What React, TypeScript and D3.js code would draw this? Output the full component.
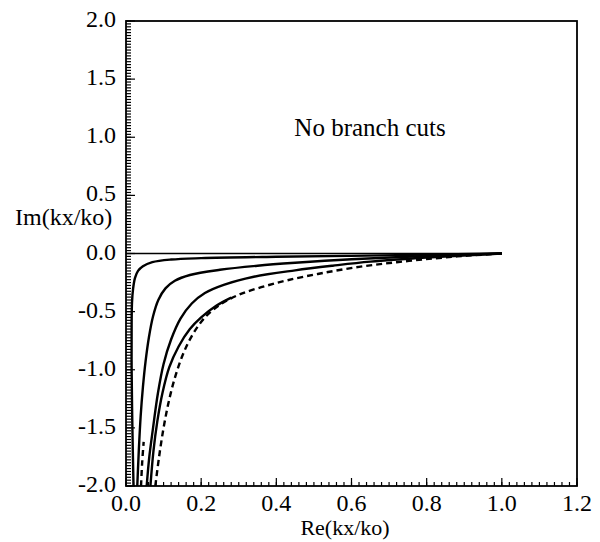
import { useRef, useEffect } from 'react';
import * as d3 from 'd3';

type Pt = [number, number];

// Re(kx/ko), Im(kx/ko) traces
const zeroLine: Pt[] = [[0, 0], [1.0, 0]];

const curveA: Pt[] = [
  [0.02, -2.0], [0.017, -1.5], [0.015, -1.0], [0.015, -0.6], [0.016, -0.42],
  [0.019, -0.3], [0.024, -0.21], [0.032, -0.15], [0.045, -0.11], [0.07, -0.075],
  [0.12, -0.052], [0.2, -0.04], [0.4, -0.028], [0.6, -0.02], [0.8, -0.01], [1.0, 0],
];

const curveB: Pt[] = [
  [0.03, -2.0], [0.034, -1.7], [0.039, -1.4], [0.045, -1.15], [0.052, -0.93],
  [0.061, -0.72], [0.072, -0.54], [0.086, -0.4], [0.105, -0.3], [0.13, -0.235],
  [0.17, -0.185], [0.25, -0.14], [0.35, -0.105], [0.45, -0.08], [0.6, -0.05],
  [0.8, -0.022], [1.0, 0],
];

const curveC: Pt[] = [
  [0.055, -2.0], [0.062, -1.75], [0.072, -1.5], [0.085, -1.2], [0.1, -0.95],
  [0.12, -0.74], [0.145, -0.56], [0.175, -0.43], [0.21, -0.34], [0.26, -0.27],
  [0.34, -0.2], [0.45, -0.145], [0.55, -0.105], [0.65, -0.07], [0.8, -0.035], [1.0, 0],
];

const curveD: Pt[] = [
  [0.065, -2.0], [0.073, -1.7], [0.083, -1.45], [0.097, -1.2], [0.115, -0.98],
  [0.14, -0.8], [0.17, -0.65], [0.2, -0.55], [0.24, -0.45], [0.28, -0.38],
];

const dashedMain: Pt[] = [
  [0.078, -2.0], [0.088, -1.75], [0.1, -1.5], [0.114, -1.27], [0.13, -1.07],
  [0.15, -0.88], [0.175, -0.71], [0.21, -0.55], [0.25, -0.44], [0.3, -0.355],
  [0.36, -0.29], [0.43, -0.23], [0.52, -0.17], [0.62, -0.115], [0.72, -0.075],
  [0.82, -0.042], [0.91, -0.018], [1.0, 0],
];

const dashedShort: Pt[] = [[0.04, -2.0], [0.043, -1.8], [0.047, -1.62]];

const xTicks = [0, 0.2, 0.4, 0.6, 0.8, 1.0, 1.2];
const yTicks = [-2.0, -1.5, -1.0, -0.5, 0.0, 0.5, 1.0, 1.5, 2.0];

export default function App() {
  const svgRef = useRef<SVGSVGElement>(null);

  useEffect(() => {
    document.body.style.margin = '0';
    if (!svgRef.current) return;
    const svg = d3.select(svgRef.current);
    svg.selectAll('*').remove();

    const x = d3.scaleLinear().domain([0, 1.2]).range([126, 577]);
    const y = d3.scaleLinear().domain([-2, 2]).range([486, 21]);
    const font = '"Liberation Serif", "DejaVu Serif", "Times New Roman", Times, serif';

    // minor ticks
    const xMinor = d3.range(0, 1.2001, 0.02);
    svg.append('g')
      .selectAll('line')
      .data(xMinor)
      .enter()
      .append('line')
      .attr('x1', (d) => x(d))
      .attr('x2', (d) => x(d))
      .attr('y1', y(-2))
      .attr('y2', y(-2) - 4)
      .attr('stroke', '#000')
      .attr('stroke-width', 1.2);

    svg.append('g')
      .selectAll('line')
      .data(xTicks)
      .enter()
      .append('line')
      .attr('x1', (d) => x(d))
      .attr('x2', (d) => x(d))
      .attr('y1', y(-2))
      .attr('y2', y(-2) - 8)
      .attr('stroke', '#000')
      .attr('stroke-width', 1.2);

    const yMinor = d3.range(-2, 2.0001, 0.025);
    svg.append('g')
      .selectAll('line')
      .data(yMinor)
      .enter()
      .append('line')
      .attr('x1', x(0))
      .attr('x2', x(0) + 5)
      .attr('y1', (d) => y(d))
      .attr('y2', (d) => y(d))
      .attr('stroke', '#000')
      .attr('stroke-width', 1.2);

    svg.append('g')
      .selectAll('line')
      .data(yTicks)
      .enter()
      .append('line')
      .attr('x1', x(0))
      .attr('x2', x(0) + 9)
      .attr('y1', (d) => y(d))
      .attr('y2', (d) => y(d))
      .attr('stroke', '#000')
      .attr('stroke-width', 1.2);

    // frame
    svg.append('rect')
      .attr('x', x(0))
      .attr('y', y(2))
      .attr('width', x(1.2) - x(0))
      .attr('height', y(-2) - y(2))
      .attr('fill', 'none')
      .attr('stroke', '#000')
      .attr('stroke-width', 1.8);

    // tick labels
    svg.append('g')
      .selectAll('text')
      .data(xTicks)
      .enter()
      .append('text')
      .attr('x', (d) => x(d))
      .attr('y', 511)
      .attr('text-anchor', 'middle')
      .style('font-family', font)
      .style('font-size', '24px')
      .text((d) => d.toFixed(1));

    svg.append('g')
      .selectAll('text')
      .data(yTicks)
      .enter()
      .append('text')
      .attr('x', 116)
      .attr('y', (d) => y(d) + 6)
      .attr('text-anchor', 'end')
      .style('font-family', font)
      .style('font-size', '24px')
      .text((d) => d.toFixed(1));

    // curves
    const clip = svg.append('clipPath').attr('id', 'plotclip');
    clip.append('rect')
      .attr('x', x(0))
      .attr('y', y(2))
      .attr('width', x(1.2) - x(0))
      .attr('height', y(-2) - y(2));

    const line = d3
      .line<Pt>()
      .x((d) => x(d[0]))
      .y((d) => y(d[1]))
      .curve(d3.curveCatmullRom.alpha(0.5));

    const plot = svg.append('g').attr('clip-path', 'url(#plotclip)');

    plot.append('path')
      .attr('d', line(zeroLine))
      .attr('fill', 'none')
      .attr('stroke', '#000')
      .attr('stroke-width', 1.6);

    [curveA, curveB, curveC, curveD].forEach((c) => {
      plot.append('path')
        .attr('d', line(c))
        .attr('fill', 'none')
        .attr('stroke', '#000')
        .attr('stroke-width', 2.4);
    });

    [dashedMain, dashedShort].forEach((c) => {
      plot.append('path')
        .attr('d', line(c))
        .attr('fill', 'none')
        .attr('stroke', '#000')
        .attr('stroke-width', 2.4)
        .attr('stroke-dasharray', '6,4');
    });

    // labels
    svg.append('text')
      .attr('x', 370)
      .attr('y', 136)
      .attr('text-anchor', 'middle')
      .style('font-family', font)
      .style('font-size', '25px')
      .text('No branch cuts');

    svg.append('text')
      .attr('x', 15)
      .attr('y', 225)
      .style('font-family', font)
      .style('font-size', '24px')
      .text('Im(kx/ko)');

    svg.append('text')
      .attr('x', 345)
      .attr('y', 535)
      .attr('text-anchor', 'middle')
      .style('font-family', font)
      .style('font-size', '22px')
      .text('Re(kx/ko)');
  }, []);

  return <svg ref={svgRef} width={600} height={542} style={{ display: 'block' }} />;
}
